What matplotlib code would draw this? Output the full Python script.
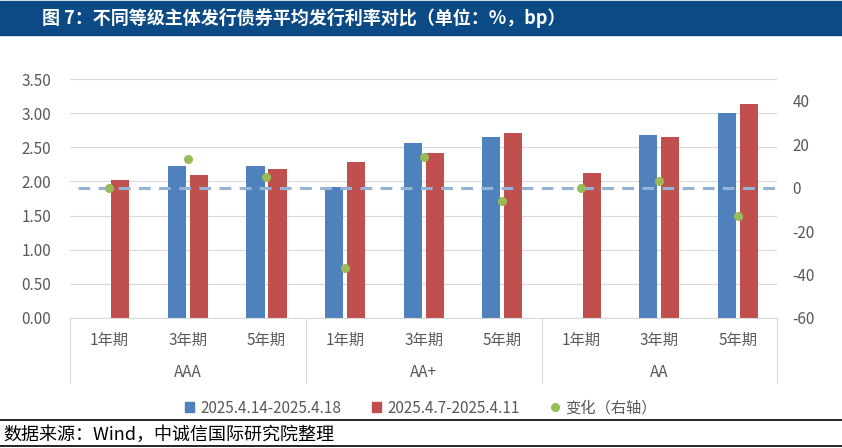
import numpy as np
import matplotlib
matplotlib.use('Agg')
import matplotlib.pyplot as plt
from matplotlib.patches import Rectangle, Patch
from matplotlib.lines import Line2D
import matplotlib.transforms as mtrans

plt.rcParams['font.family'] = ['Noto Sans CJK SC', 'DejaVu Sans']
plt.rcParams['lines.scale_dashes'] = False
plt.rcParams['axes.unicode_minus'] = False

# ---- data ----
terms = ['1年期', '3年期', '5年期']
groups = ['AAA', 'AA+', 'AA']
categories = terms * 3
rate_recent = [np.nan, 2.23, 2.23, 1.92, 2.56, 2.65, np.nan, 2.68, 3.01]
rate_prev = [2.02, 2.10, 2.18, 2.29, 2.42, 2.71, 2.12, 2.65, 3.14]
change_bp = [0, 13, 5, -37, 14, -6, 0, 3, -13]
left_ticks = [0.0, 0.5, 1.0, 1.5, 2.0, 2.5, 3.0, 3.5]
right_ticks = [-60, -40, -20, 0, 20, 40]
legend_labels = ['2025.4.14-2025.4.18', '2025.4.7-2025.4.11', '变化（右轴）']
title = '图 7：不同等级主体发行债券平均发行利率对比（单位：%，bp）'
source = '数据来源：Wind，中诚信国际研究院整理'

BLUE = '#4F81BD'
RED = '#C0504D'
GREEN = '#9BBB59'
DASH = '#95B3D7'
GRID = '#D9D9D9'
TXT = '#595959'

W, H = 842, 448
fig = plt.figure(figsize=(W / 100, H / 100), dpi=100)


def fy(y):
    return 1 - y / H


# title bar
fig.patches.append(Rectangle((0, fy(35)), 1, (35 - 1.5) / H, transform=fig.transFigure,
                             color='#0B4A85', zorder=0))
fig.text(42 / W, fy(17.5), title, ha='left', va='center', color='white',
         fontsize=13, fontweight='bold')

ax = fig.add_axes([70 / W, fy(317.7), (777.3 - 70) / W, (317.7 - 79.3) / H])
x = np.arange(len(categories))
bw = 0.23
ax.bar(x - 0.14, rate_recent, bw, color=BLUE, zorder=2)
ax.bar(x + 0.14, rate_prev, bw, color=RED, zorder=2)
ax.set_xlim(-0.5, len(categories) - 0.5)
ax.set_ylim(0, 3.5)
ax.set_yticks(left_ticks)
ax.set_yticklabels([f'{v:.2f}' for v in left_ticks])
ax.yaxis.grid(True, color=GRID, lw=0.8)
ax.set_axisbelow(True)
for s in ['left', 'right', 'top']:
    ax.spines[s].set_visible(False)
ax.spines['bottom'].set_color(GRID)
ax.spines['bottom'].set_linewidth(0.8)
ax.tick_params(axis='y', length=0, pad=13.5, labelsize=11, labelcolor=TXT)
ax.set_xticks([])

ax2 = ax.twinx()
ax2.set_ylim(-60, 50)
ax2.set_yticks(right_ticks)
ax2.tick_params(axis='y', length=0, pad=11, labelsize=11, labelcolor=TXT)
for s in ax2.spines.values():
    s.set_visible(False)
ax2.axhline(0, xmin=(78 - 70) / 707.3, xmax=(782 - 70) / 707.3, color=DASH, lw=2.2,
            dashes=(8.5, 6), clip_on=False, zorder=2)
ax2.plot(x, change_bp, linestyle='none', marker='o', ms=5.5, color=GREEN, zorder=3)

# multi-level category axis
trans = mtrans.blended_transform_factory(ax.transData, fig.transFigure)
for i, c in enumerate(categories):
    ax.text(i, fy(340), c, transform=trans, ha='center', va='center',
            fontsize=11, color=TXT)
for gi, g in enumerate(groups):
    ax.text(gi * 3 + 1, fy(372.7), g, transform=trans, ha='center', va='center',
            fontsize=11, color=TXT)
for b in [-0.5, 2.5, 5.5, 8.5]:
    ax.plot([b, b], [fy(318), fy(383)], transform=trans, color=GRID, lw=0.8,
            clip_on=False)

handles = [Patch(color=BLUE), Patch(color=RED),
           Line2D([], [], linestyle='none', marker='o', ms=5.5, color=GREEN)]
fig.legend(handles, legend_labels, loc='center', bbox_to_anchor=(0.5, fy(408)), ncol=3,
           frameon=False, fontsize=11, handlelength=0.6, handleheight=0.6,
           handletextpad=0.4, columnspacing=2.0, labelcolor=TXT)

fig.add_artist(Line2D([0, 1], [fy(419.5)] * 2, transform=fig.transFigure, color='black', lw=1.2))
fig.add_artist(Line2D([0, 1], [fy(445.7)] * 2, transform=fig.transFigure, color='black', lw=1.2))
fig.text(3 / W, fy(434.5), source, ha='left', va='center', fontsize=13, color='black')

fig.savefig('out.png', dpi=100)
